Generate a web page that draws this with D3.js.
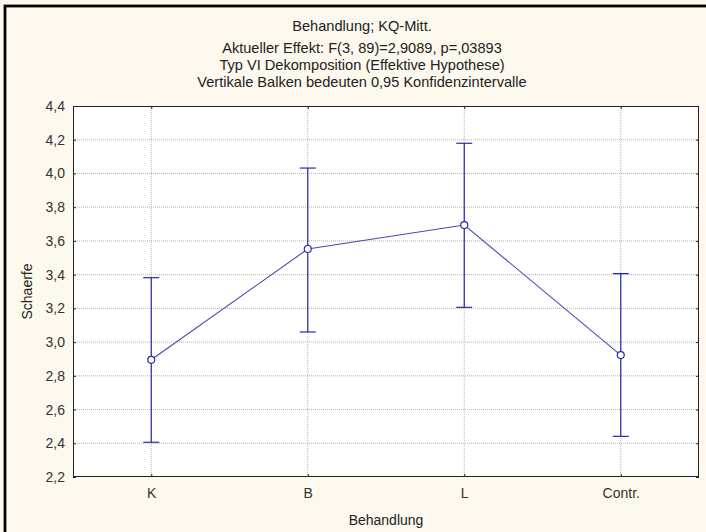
<!DOCTYPE html>
<html>
<head>
<meta charset="utf-8">
<script src="https://cdn.jsdelivr.net/npm/d3@7"></script>
<style>
  html, body { margin: 0; padding: 0; background: #fdf9ee; }
  svg { display: block; }
</style>
</head>
<body>
<div id="chart"></div>
<script>
// chart data
const categories = ["K", "B", "L", "Contr."];
const means = [2.895, 3.552, 3.694, 2.923];
const upper = [3.382, 4.032, 4.179, 3.406];
const lower = [2.406, 3.060, 3.206, 2.441];
const yTicks = [2.2, 2.4, 2.6, 2.8, 3.0, 3.2, 3.4, 3.6, 3.8, 4.0, 4.2, 4.4];
const titleLines = [
  "Behandlung; KQ-Mitt.",
  "Aktueller Effekt: F(3, 89)=2,9089, p=,03893",
  "Typ VI Dekomposition (Effektive Hypothese)",
  "Vertikale Balken bedeuten 0,95 Konfidenzintervalle"
];
const xTitle = "Behandlung";
const yTitle = "Schaerfe";

const W = 706, H = 532;
const margin = { top: 106, right: 7, bottom: 55, left: 73 };
const font = "'Liberation Sans', Arial, sans-serif";

const svg = d3.select("#chart").append("svg")
  .attr("width", W)
  .attr("height", H);

// outer frame (cropped on right/bottom)
svg.append("rect")
  .attr("x", 5).attr("y", 6)
  .attr("width", W + 20).attr("height", H + 20)
  .attr("fill", "#fdf9ee")
  .attr("stroke", "#000")
  .attr("stroke-width", 2.8);

const x = d3.scalePoint()
  .domain(categories)
  .range([margin.left, W - margin.right])
  .padding(0.5);

const y = d3.scaleLinear()
  .domain([2.2, 4.4])
  .range([H - margin.bottom, margin.top]);

const fmt = v => d3.format(".1f")(v).replace(".", ",");

// plot area
svg.append("rect")
  .attr("x", margin.left).attr("y", margin.top)
  .attr("width", W - margin.right - margin.left)
  .attr("height", H - margin.bottom - margin.top)
  .attr("fill", "#fff");

// grid
svg.append("g")
  .selectAll("line")
  .data(yTicks.slice(1, -1))
  .join("line")
  .attr("x1", margin.left).attr("x2", W - margin.right)
  .attr("y1", d => y(d)).attr("y2", d => y(d))
  .attr("stroke", "#b4b4b4")
  .attr("stroke-dasharray", "1,1");

svg.append("g")
  .selectAll("line")
  .data(categories)
  .join("line")
  .attr("x1", d => x(d)).attr("x2", d => x(d))
  .attr("y1", margin.top).attr("y2", H - margin.bottom)
  .attr("stroke", "#b4b4b4")
  .attr("stroke-dasharray", "1,1");

// axes with inward ticks
svg.append("g")
  .attr("transform", `translate(${margin.left},0)`)
  .call(d3.axisLeft(y).tickValues(yTicks).tickFormat(fmt).tickSizeInner(-3).tickSizeOuter(0).tickPadding(8))
  .call(g => g.select(".domain").remove())
  .call(g => g.selectAll("line").attr("stroke", "#222"))
  .call(g => g.selectAll("text").attr("font-family", font).attr("font-size", 14).attr("fill", "#333"));

svg.append("g")
  .attr("transform", `translate(${W - margin.right},0)`)
  .call(d3.axisRight(y).tickValues(yTicks).tickFormat("").tickSizeInner(-3).tickSizeOuter(0))
  .call(g => g.select(".domain").remove())
  .call(g => g.selectAll("line").attr("stroke", "#222"));

svg.append("g")
  .attr("transform", `translate(0,${H - margin.bottom})`)
  .call(d3.axisBottom(x).tickSizeInner(-3).tickSizeOuter(0).tickPadding(11))
  .call(g => g.select(".domain").remove())
  .call(g => g.selectAll("line").attr("stroke", "#222"))
  .call(g => g.selectAll("text").attr("font-family", font).attr("font-size", 14).attr("fill", "#333"));

svg.append("g")
  .attr("transform", `translate(0,${margin.top})`)
  .call(d3.axisTop(x).tickFormat("").tickSizeInner(-3).tickSizeOuter(0))
  .call(g => g.select(".domain").remove())
  .call(g => g.selectAll("line").attr("stroke", "#222"));

// plot frame
svg.append("rect")
  .attr("x", margin.left + 0.5).attr("y", margin.top + 0.5)
  .attr("width", W - margin.right - margin.left - 1)
  .attr("height", H - margin.bottom - margin.top - 1)
  .attr("fill", "none")
  .attr("stroke", "#222");

// error bars
const rows = categories.map((c, i) => ({ c, m: means[i], lo: lower[i], hi: upper[i] }));
const eb = svg.append("g").attr("stroke", "#2a2aa8").attr("stroke-width", 1.2);
eb.selectAll(".v").data(rows).join("line")
  .attr("x1", d => x(d.c)).attr("x2", d => x(d.c))
  .attr("y1", d => y(d.lo)).attr("y2", d => y(d.hi));
eb.selectAll(".hi").data(rows).join("line")
  .attr("x1", d => x(d.c) - 8).attr("x2", d => x(d.c) + 8)
  .attr("y1", d => y(d.hi)).attr("y2", d => y(d.hi));
eb.selectAll(".lo").data(rows).join("line")
  .attr("x1", d => x(d.c) - 8).attr("x2", d => x(d.c) + 8)
  .attr("y1", d => y(d.lo)).attr("y2", d => y(d.lo));

// mean line
const line = d3.line().x(d => x(d.c)).y(d => y(d.m));
svg.append("path")
  .datum(rows)
  .attr("d", line)
  .attr("fill", "none")
  .attr("stroke", "#4848b8")
  .attr("stroke-width", 1.1);

svg.append("g")
  .selectAll("circle")
  .data(rows)
  .join("circle")
  .attr("cx", d => x(d.c)).attr("cy", d => y(d.m))
  .attr("r", 3.5)
  .attr("fill", "#fff")
  .attr("stroke", "#2a2aa8")
  .attr("stroke-width", 1.2);

// titles
const titleY = [31, 53, 70, 87];
svg.append("g")
  .selectAll("text")
  .data(titleLines)
  .join("text")
  .attr("x", 362)
  .attr("y", (d, i) => titleY[i])
  .attr("text-anchor", "middle")
  .attr("font-family", font)
  .attr("font-size", 14.6)
  .attr("fill", "#222")
  .text(d => d);

svg.append("text")
  .attr("x", (margin.left + W - margin.right) / 2)
  .attr("y", 525)
  .attr("text-anchor", "middle")
  .attr("font-family", font)
  .attr("font-size", 14)
  .attr("fill", "#222")
  .text(xTitle);

svg.append("text")
  .attr("transform", `translate(32,${(margin.top + H - margin.bottom) / 2}) rotate(-90)`)
  .attr("text-anchor", "middle")
  .attr("font-family", font)
  .attr("font-size", 14)
  .attr("fill", "#222")
  .text(yTitle);
</script>
</body>
</html>
